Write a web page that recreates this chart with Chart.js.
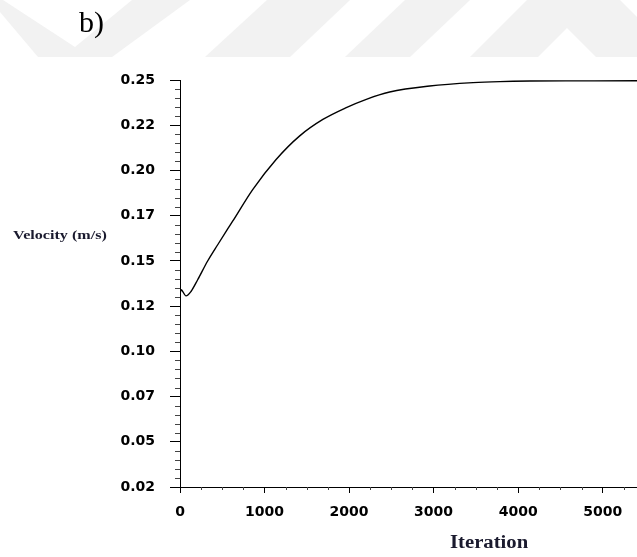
<!DOCTYPE html>
<html>
<head>
<meta charset="utf-8">
<script src="https://cdn.jsdelivr.net/npm/chart.js@4.4.0/dist/chart.umd.min.js"></script>
<style>
  html, body { margin: 0; padding: 0; background: #fff; }
  #wrap { width: 637px; height: 557px; }
</style>
</head>
<body>
<div id="wrap"><canvas id="velocity-chart" width="637" height="557"></canvas></div>
<script>
// monitored velocity vs. solver iteration
const iterations = [0, 12, 71, 130, 209, 327, 446, 564, 623, 860, 1137, 1413, 1690, 1967, 2204, 2480, 2954, 3467, 3783, 4139, 4700, 5406];
const velocity = [0.1290, 0.1315, 0.1280, 0.1305, 0.1371, 0.1477, 0.1569, 0.1658, 0.1702, 0.1881, 0.2051, 0.2183, 0.2277, 0.2344, 0.2391, 0.2432, 0.2466, 0.2485, 0.2491, 0.2494, 0.2495, 0.2496];

const xTickValues = [0, 1000, 2000, 3000, 4000, 5000];
const xMax = 5406;
const yTickLabels = ['0.02', '0.05', '0.07', '0.10', '0.12', '0.15', '0.17', '0.20', '0.22', '0.25'];
const yMin = 0.02;
const yMax = 0.25;

const yStep = (yMax - yMin) / (yTickLabels.length - 1);

// faint diagonal watermark bands behind the figure label
const backdrop = {
  id: 'backdrop',
  beforeDraw(chart) {
    const ctx = chart.ctx;
    ctx.save();
    ctx.fillStyle = '#fff';
    ctx.fillRect(0, 0, chart.width, chart.height);
    ctx.fillStyle = '#f2f2f2';
    const shapes = [
      [[0, 0], [3, 0], [75, 47], [132, 0], [190, 0], [112, 57], [38, 57], [0, 12]],
      [[267, 0], [350, 0], [290, 57], [205, 57]],
      [[405, 0], [470, 0], [410, 57], [345, 57]],
      [[527, 0], [620, 0], [677, 57], [596, 57], [567, 28], [538, 57], [470, 57]]
    ];
    shapes.forEach(pts => {
      ctx.beginPath();
      pts.forEach(([px, py], i) => i ? ctx.lineTo(px, py) : ctx.moveTo(px, py));
      ctx.closePath();
      ctx.fill();
    });
    ctx.fillStyle = '#000';
    ctx.font = '30px "Liberation Serif"';
    ctx.textBaseline = 'alphabetic';
    ctx.fillText('b)', 79, 32);
    ctx.restore();
  }
};

// small ticks between the labelled ones
const minorTicks = {
  id: 'minorTicks',
  afterDraw(chart) {
    const {ctx, scales: {x, y}} = chart;
    ctx.save();
    ctx.strokeStyle = '#444';
    ctx.lineWidth = 1;
    ctx.beginPath();
    for (let i = 1; i < (yTickLabels.length - 1) * 5; i++) {
      if (i % 5 === 0) continue;
      const py = Math.round(y.getPixelForValue(yMin + i * yStep / 5)) + 0.5;
      ctx.moveTo(x.left - 5, py);
      ctx.lineTo(x.left, py);
    }
    for (let v = 250; v < xMax; v += 250) {
      if (v % 1000 === 0) continue;
      const px = Math.round(x.getPixelForValue(v)) + 0.5;
      ctx.moveTo(px, y.bottom);
      ctx.lineTo(px, y.bottom + 3);
    }
    ctx.stroke();
    ctx.restore();
  }
};

function stretchedText(ctx, text, left, baseline, sx) {
  ctx.save();
  ctx.translate(left, baseline);
  ctx.scale(sx, 1);
  ctx.fillText(text, 0, 0);
  ctx.restore();
}

const axisTitles = {
  id: 'axisTitles',
  afterDraw(chart) {
    const ctx = chart.ctx;
    ctx.save();
    ctx.fillStyle = '#1a1a2e';
    ctx.textBaseline = 'alphabetic';
    ctx.font = 'bold 13px "Liberation Serif"';
    stretchedText(ctx, 'Velocity (m/s)', 13, 239, 1.24);
    ctx.font = 'bold 18px "Liberation Serif"';
    stretchedText(ctx, 'Iteration', 450, 548, 1.15);
    ctx.restore();
  }
};

const tickFont = {family: '"DejaVu Sans", Verdana, sans-serif', size: 14, weight: 'bold'};

const canvas = document.getElementById('velocity-chart');
new Chart(canvas, {
  type: 'line',
  data: {
    datasets: [{
      data: iterations.map((it, i) => ({x: it, y: velocity[i]})),
      borderColor: '#000',
      borderWidth: 1.4,
      pointRadius: 0,
      cubicInterpolationMode: 'monotone',
      fill: false
    }]
  },
  options: {
    responsive: false,
    animation: false,
    layout: {padding: {top: 80, right: 0, bottom: 0, left: 0}},
    plugins: {
      legend: {display: false},
      tooltip: {enabled: false}
    },
    scales: {
      x: {
        type: 'linear',
        min: 0,
        max: xMax,
        afterBuildTicks: scale => { scale.ticks = xTickValues.map(v => ({value: v})); },
        afterFit: scale => { scale.height = 70; },
        grid: {drawOnChartArea: false, drawTicks: true, tickLength: 6, tickColor: '#000'},
        border: {display: true, color: '#000', width: 1},
        ticks: {
          padding: 11,
          color: '#000',
          font: tickFont,
          maxRotation: 0,
          autoSkip: false,
          callback: v => String(v)
        }
      },
      y: {
        type: 'linear',
        min: yMin,
        max: yMax,
        afterBuildTicks: scale => {
          scale.ticks = yTickLabels.map((_, i) => ({value: yMin + i * yStep}));
        },
        afterFit: scale => { scale.width = 180; },
        grid: {drawOnChartArea: false, drawTicks: true, tickLength: 10, tickColor: '#000'},
        border: {display: true, color: '#000', width: 1},
        ticks: {
          padding: 15,
          color: '#000',
          font: tickFont,
          autoSkip: false,
          callback: (v, i) => yTickLabels[i]
        }
      }
    }
  },
  plugins: [backdrop, minorTicks, axisTitles]
});
</script>
</body>
</html>
